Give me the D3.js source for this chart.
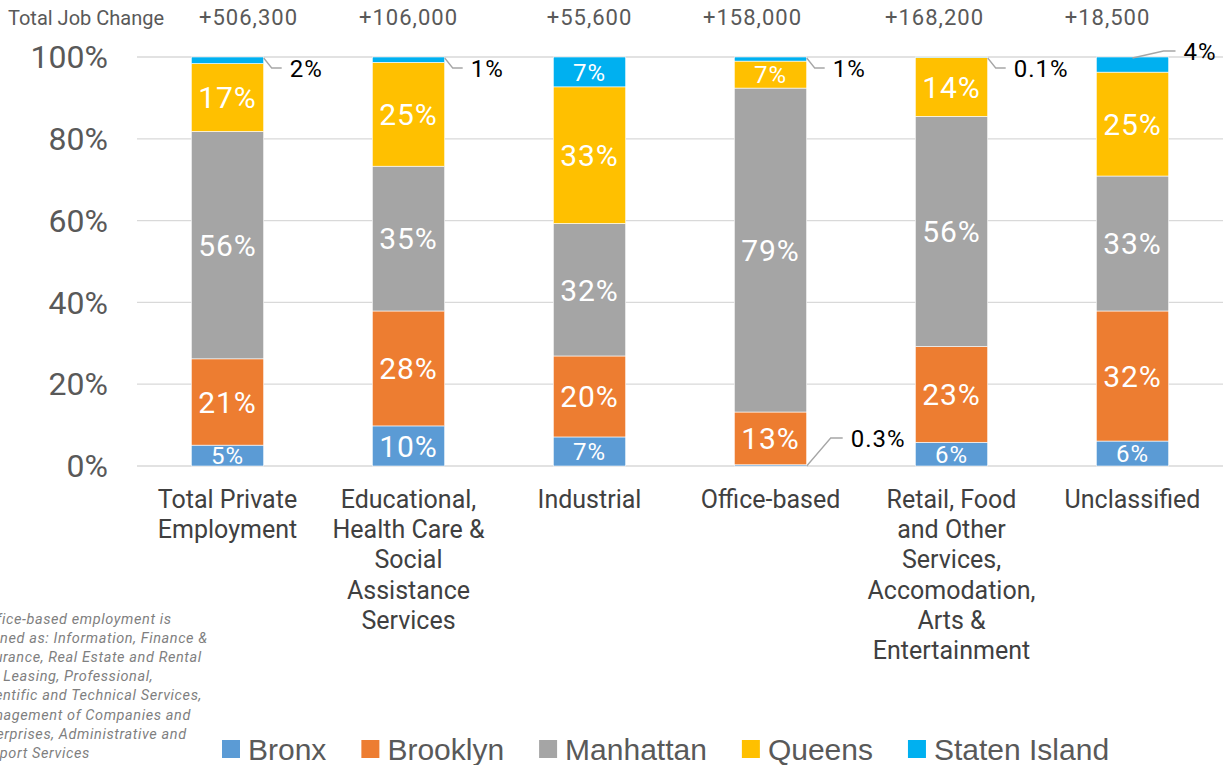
<!DOCTYPE html>
<html>
<head>
<meta charset="utf-8">
<script src="https://cdn.jsdelivr.net/npm/d3@7"></script>
<style>
  body { margin: 0; background: #fff; }
  svg { display: block; font-family: Roboto, "Liberation Sans", sans-serif; }
  .grid line { stroke: #d9d9d9; stroke-width: 1.3; }
  .leader { fill: none; stroke: #a6a6a6; stroke-width: 1.3; }
</style>
</head>
<body>
<svg id="chart" width="1224" height="765"></svg>
<script>
// categories and their wrapped labels
const categories = ['Total Private Employment', 'Educational, Health Care & Social Assistance Services',
  'Industrial', 'Office-based', 'Retail, Food and Other Services, Accomodation, Arts & Entertainment', 'Unclassified'];
const categoryLines = [
  ['Total Private', 'Employment'],
  ['Educational,', 'Health Care &', 'Social', 'Assistance', 'Services'],
  ['Industrial'],
  ['Office-based'],
  ['Retail, Food', 'and Other', 'Services,', 'Accomodation,', 'Arts &', 'Entertainment'],
  ['Unclassified']
];
const jobChange = ['+506,300', '+106,000', '+55,600', '+158,000', '+168,200', '+18,500'];
const jobChangeShift = [21, 0, 0, -18, -17, -25]; // header boxes sit off-centre in the original

const boroughs = ['Bronx', 'Brooklyn', 'Manhattan', 'Queens', 'Staten Island'];
const colors = ['#5b9bd5', '#ed7d31', '#a5a5a5', '#ffc000', '#00b0f0'];

// share of job change (%) by borough, one value per category
const bronx = [5.1, 9.8, 7.1, 0.3, 5.8, 6.1];
const brooklyn = [21.1, 28.1, 19.8, 12.9, 23.4, 31.8];
const manhattan = [55.6, 35.4, 32.4, 79.2, 56.3, 33.0];
const queens = [16.6, 25.4, 33.4, 6.6, 14.4, 25.4];
const statenIsland = [1.6, 1.3, 7.3, 1.0, 0.1, 3.7];

const yTicks = [0, 20, 40, 60, 80, 100];

const footnote = ['*Office-based employment is', 'defined as: Information, Finance &',
  'Insurance, Real Estate and Rental', 'and Leasing, Professional,',
  'Scientific and Technical Services,', 'Management of Companies and',
  'Enterprises, Administrative and', 'Support Services'];

const series = [bronx, brooklyn, manhattan, queens, statenIsland];
const table = categories.map((c, i) => {
  const row = { cat: c };
  boroughs.forEach((b, j) => { row[b] = series[j][i]; });
  return row;
});

const svg = d3.select('#chart');
const x = d3.scaleBand().domain(categories).range([137, 1223]).paddingInner(0.6).paddingOuter(0.3);
const y = d3.scaleLinear().domain([0, 100]).range([466, 57]);
const bw = x.bandwidth();

const fmt = v => (v < 1 ? v.toFixed(1) : Math.round(v)) + '%';

// gridlines
svg.append('g').attr('class', 'grid').
  selectAll('line').data(yTicks).join('line').
  attr('x1', 137).attr('x2', 1223).
  attr('y1', d => y(d)).attr('y2', d => y(d));

// y axis labels
svg.append('g').selectAll('text').data(yTicks).join('text').
  attr('x', 108).attr('y', d => y(d)).attr('dy', '0.35em').
  attr('text-anchor', 'end').attr('fill', '#595959').
  style('font-size', '32px').text(d => d + '%');

// stacked bars
const stacked = d3.stack().keys(boroughs)(table);
const layers = svg.append('g').selectAll('g').data(stacked).join('g').
  attr('fill', (d, i) => colors[i]);
layers.selectAll('rect').data(d => d).join('rect').
  attr('x', d => x(d.data.cat)).
  attr('width', bw).
  attr('y', d => y(d[1])).
  attr('height', d => y(d[0]) - y(d[1])).
  attr('stroke', '#fff').attr('stroke-width', 0.6);

// labels inside segments (thin ones get a leader line instead)
const inside = [], outside = [];
stacked.forEach((layer, i) => layer.forEach(d => {
  const v = d[1] - d[0];
  const item = { cat: d.data.cat, v, mid: (d[0] + d[1]) / 2, top: d[1], bottom: d[0], k: i };
  (v >= 4 ? inside : outside).push(item);
}));
svg.append('g').selectAll('text').data(inside).join('text').
  attr('x', d => x(d.cat) + bw / 2).
  attr('y', d => y(d.mid)).attr('dy', '0.36em').
  attr('text-anchor', 'middle').attr('fill', '#fff').
  style('letter-spacing', '1px').
  style('font-size', d => (d.v < 9 ? '24px' : '30px')).
  text(d => fmt(d.v));

const out = svg.append('g');
outside.forEach(d => {
  let pts;
  if (d.k === 0) { // bottom segment: rising leader
    const x0 = x(d.cat) + bw, y0 = y(d.bottom);
    pts = [[x0, y0], [x0 + 24, y0 - 28], [x0 + 36, y0 - 28]];
  } else if (d.cat === 'Unclassified') {
    const x0 = x(d.cat) + bw / 2, y0 = y(d.top);
    pts = [[x0, y0 + 1], [x0 + 31, y0 - 6], [x0 + 43, y0 - 6]];
  } else {
    const x0 = x(d.cat) + bw, y0 = y(d.top) + 1;
    pts = [[x0, y0], [x0 + 8, y0 + 10], [x0 + 18, y0 + 10]];
  }
  out.append('path').attr('class', 'leader').attr('d', d3.line()(pts));
  out.append('text').attr('x', pts[2][0] + 8).attr('y', pts[2][1]).attr('dy', '0.36em').
    attr('fill', '#000').style('font-size', '24px').style('letter-spacing', '1px').
    text(fmt(d.v));
});

// header row
svg.append('text').attr('x', 8).attr('y', 25).attr('fill', '#595959').
  style('font-size', '20px').text('Total Job Change');
svg.append('g').selectAll('text').data(jobChange).join('text').
  attr('x', (d, i) => x(categories[i]) + bw / 2 + jobChangeShift[i]).attr('y', 25).
  attr('text-anchor', 'middle').attr('fill', '#595959').
  style('font-size', '22px').style('letter-spacing', '1px').text(d => d);

// category labels
const cl = svg.append('g').selectAll('text').data(categories).join('text').
  attr('x', d => x(d) + bw / 2).attr('y', 508).
  attr('text-anchor', 'middle').attr('fill', '#404040').
  style('font-size', '25px');
cl.selectAll('tspan').data((d, i) => categoryLines[i]).join('tspan').
  attr('x', function () { return this.parentNode.getAttribute('x'); }).
  attr('dy', (d, i) => (i ? 30.2 : 0)).text(d => d);

// footnote (runs off the left edge, as in the original)
svg.append('text').attr('y', 624).attr('fill', '#7f7f7f').
  style('font-size', '14.5px').style('font-style', 'italic').style('letter-spacing', '0.6px').
  selectAll('tspan').data(footnote).join('tspan').
  attr('x', -26).attr('dy', (d, i) => (i ? 19.1 : 0)).text(d => d);

// legend
const legend = svg.append('g').attr('transform', 'translate(222,749)').
  style('font-family', '"Liberation Sans", Arial, sans-serif');
let lx = 0;
boroughs.forEach((b, i) => {
  const g = legend.append('g').attr('transform', `translate(${lx},0)`);
  g.append('rect').attr('x', 0).attr('y', -9).attr('width', 18).attr('height', 18).attr('fill', colors[i]);
  const t = g.append('text').attr('x', 26).attr('dy', '0.36em').attr('fill', '#595959').
    style('font-size', '30px').text(b);
  lx += 26 + t.node().getComputedTextLength() + 35;
});
</script>
</body>
</html>
